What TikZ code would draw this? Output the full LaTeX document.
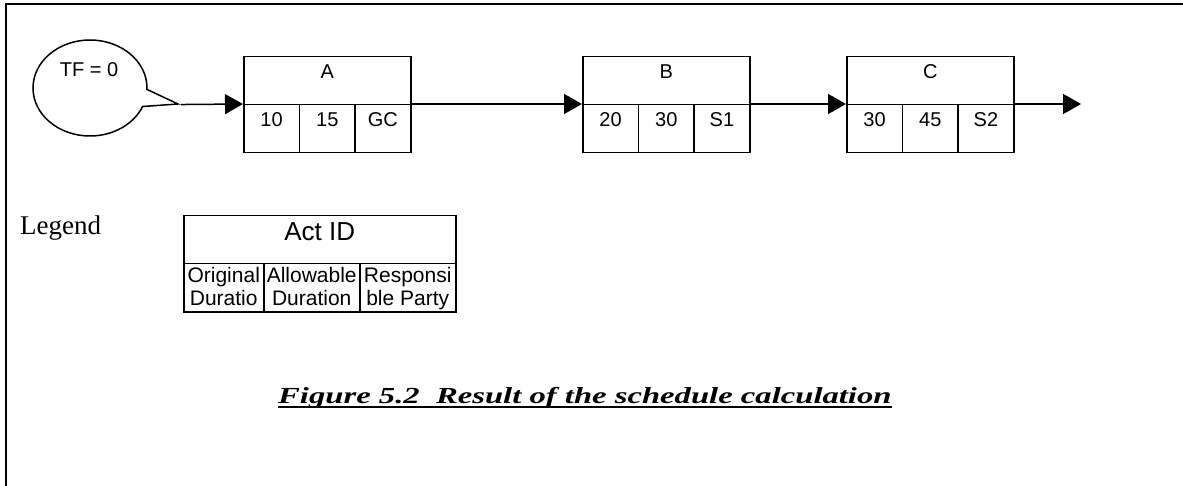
\documentclass[tikz,border=0pt]{standalone}
\usepackage{fontspec}
\setmainfont{Liberation Serif}
\newfontfamily\arialfont{Liberation Sans}
\usetikzlibrary{arrows.meta,shapes.callouts,calc}
\begin{document}
\begin{tikzpicture}[x=1pt,y=1pt,
  frame/.style={line width=2.2pt},
  boxfont/.style={font=\arialfont\fontsize{20}{20}\selectfont},
  cellbox/.style={draw, line width=1.5pt, inner sep=0pt, boxfont, text height=14pt, text depth=18pt, anchor=north west},
  topcell/.style={cellbox, minimum width=167pt, minimum height=48pt},
  subcell/.style={cellbox, minimum width=55.67pt, minimum height=48pt},
  conn/.style={line width=1.5pt, -{Triangle[length=18pt,width=20pt]}},
  lgtop/.style={draw, line width=1.5pt, inner sep=0pt, anchor=north west, minimum width=272pt, minimum height=48pt, font=\arialfont\fontsize{26}{26}\selectfont, text height=18pt, text depth=16pt},
  lgsub/.style={draw, line width=1.5pt, inner sep=0pt, anchor=north west, minimum height=48pt, align=center, font=\arialfont\fontsize{21}{23}\selectfont, text height=38pt, text depth=2pt},
]
\useasboundingbox (0,0) rectangle (1183,-486);
\draw[frame] (1183,-4) -- (6,-4) -- (6,-486);

% callout
\node[ellipse callout, draw, line width=1.5pt, minimum width=114pt, minimum height=96pt, inner sep=0pt,
      callout absolute pointer={(178,-104)}, callout pointer arc=21] (tf) at (90,-88) {};
\node[boxfont, inner sep=0pt] (tftext) at (89,-70) {TF = 0};

% activity boxes
\foreach \n/\x/\a/\b/\c in {A/243/10/15/GC, B/582/20/30/S1, C/846/30/45/S2}{
  \node[topcell] (\n) at (\x,-56) {\n};
  \node[subcell] (\n1) at (\x,-104) {\a};
  \node[subcell] (\n2) at (\x+55.67,-104) {\b};
  \node[subcell] (\n3) at (\x+111.33,-104) {\c};
}
\coordinate (endpt) at (1081,-104);

\draw[conn] (tf.pointer) -- (A1.north west);
\draw[conn] (A3.north east) -- (B1.north west);
\draw[conn] (B3.north east) -- (C1.north west);
\draw[conn] (C3.north east) -- (endpt);

% legend
\node[font=\fontsize{27}{27}\selectfont, anchor=base west, inner sep=0pt] (leg) at (20,-235) {Legend};
\node[lgtop] (actid) at (183,-215) {Act ID};
\node[lgsub, minimum width=80pt] (lg1) at (183,-263) {Original\\Duratio};
\node[lgsub, minimum width=96pt] (lg2) at (263,-263) {Allowable\\Duration};
\node[lgsub, minimum width=96pt] (lg3) at (359,-263) {Responsi\\ble Party};

% caption
\node[font=\bfseries\itshape\fontsize{23}{23}\selectfont, anchor=base west, inner sep=0pt] (cap) at (278,-403)
  {\scalebox{1.42}[1]{Figure 5.2\ \ Result of the schedule calculation}};
\draw[line width=2pt] ([yshift=-4pt]cap.base west) -- ([yshift=-4pt]cap.base east);
\end{tikzpicture}
\end{document}
